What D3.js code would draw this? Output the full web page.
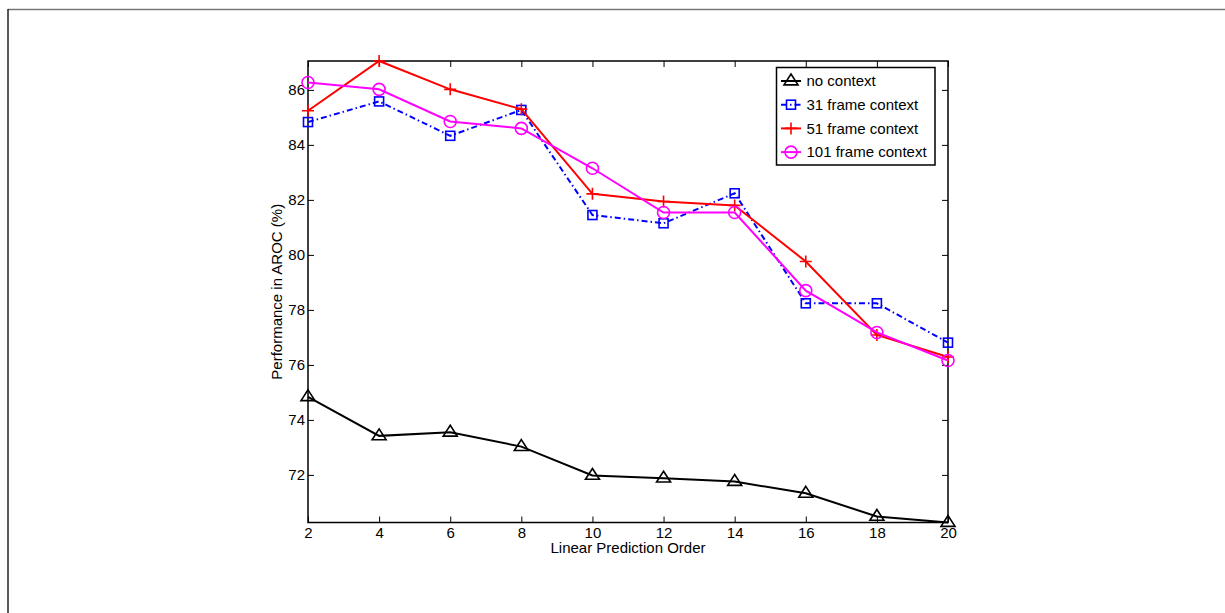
<!DOCTYPE html>
<html>
<head>
<meta charset="utf-8">
<script src="https://cdn.jsdelivr.net/npm/d3@7"></script>
<style>
  body { margin: 0; background: #fff; }
  svg text { font-family: "Liberation Sans", Arial, sans-serif; }
</style>
</head>
<body>
<div id="chart"></div>
<script>
var orders = [2, 4, 6, 8, 10, 12, 14, 16, 18, 20];
var noContext = [74.84, 73.42, 73.55, 73.03, 71.98, 71.88, 71.76, 71.33, 70.49, 70.27];
var ctx31 = [84.83, 85.58, 84.33, 85.27, 81.45, 81.15, 82.24, 78.24, 78.24, 76.81];
var ctx51 = [85.24, 87.05, 86.02, 85.30, 82.22, 81.94, 81.80, 79.76, 77.09, 76.29];
var ctx101 = [86.27, 86.02, 84.85, 84.60, 83.15, 81.54, 81.54, 78.70, 77.18, 76.16];
var xTicks = [2, 4, 6, 8, 10, 12, 14, 16, 18, 20];
var yTicks = [72, 74, 76, 78, 80, 82, 84, 86];

var series = [
  {name: "no context", values: noContext, color: "#000", dash: null, marker: "triangle"},
  {name: "31 frame context", values: ctx31, color: "#0000ff", dash: "6,3,1.5,3", marker: "square"},
  {name: "51 frame context", values: ctx51, color: "#ff0000", dash: null, marker: "plus"},
  {name: "101 frame context", values: ctx101, color: "#ff00ff", dash: null, marker: "circle"}
];

var W = 1225, H = 613;
var plotL = 308, plotR = 948, plotT = 61, plotB = 522.5;
var fontSize = "15px";

var svg = d3.select("#chart").append("svg")
    .attr("width", W).attr("height", H);

// figure frame
svg.append("line").attr("x1", 8).attr("x2", W).attr("y1", 9.5).attr("y2", 9.5)
    .attr("stroke", "#777").attr("stroke-width", 1.5);
svg.append("line").attr("x1", 8).attr("x2", 8).attr("y1", 9).attr("y2", H)
    .attr("stroke", "#222").attr("stroke-width", 1.5);

var allVals = d3.merge(series.map(function(s){ return s.values; }));
var x = d3.scaleLinear().domain([2, 20]).range([plotL, plotR]);
var y = d3.scaleLinear().domain([d3.min(allVals), d3.max(allVals)]).range([plotB, plotT]);

var tickLen = 6;
// axes
var gx = svg.append("g").attr("transform", "translate(0," + plotB + ")")
    .call(d3.axisBottom(x).tickValues(xTicks).tickSize(-tickLen).tickPadding(5).tickFormat(d3.format("d")));
var gxTop = svg.append("g").attr("transform", "translate(0," + plotT + ")")
    .call(d3.axisTop(x).tickValues(xTicks).tickSize(-tickLen).tickFormat(""));
var gy = svg.append("g").attr("transform", "translate(" + plotL + ",0)")
    .call(d3.axisLeft(y).tickValues(yTicks).tickSize(-tickLen).tickPadding(3).tickFormat(d3.format("d")));
var gyRight = svg.append("g").attr("transform", "translate(" + plotR + ",0)")
    .call(d3.axisRight(y).tickValues(yTicks).tickSize(-tickLen).tickFormat(""));

[gx, gxTop, gy, gyRight].forEach(function(g){
  g.select(".domain").remove();
  g.selectAll("line").attr("stroke", "#000").attr("stroke-width", 1);
  g.selectAll("text").attr("fill", "#000").style("font-size", fontSize);
});

svg.append("rect").attr("x", plotL).attr("y", plotT)
    .attr("width", plotR - plotL).attr("height", plotB - plotT)
    .attr("fill", "none").attr("stroke", "#000").attr("stroke-width", 1.5);

svg.append("text").attr("x", (plotL + plotR) / 2).attr("y", 553)
    .attr("text-anchor", "middle").style("font-size", fontSize).text("Linear Prediction Order");
svg.append("text").attr("transform", "translate(282," + ((plotT + plotB) / 2) + ") rotate(-90)")
    .attr("text-anchor", "middle").style("font-size", fontSize).text("Performance in AROC (%)");

function drawMarker(g, type, cx, cy, color) {
  if (type === "triangle") {
    var s = 7;
    g.append("path").attr("d", "M" + cx + "," + (cy - s) + "L" + (cx + s) + "," + (cy + s * 0.55) + "L" + (cx - s) + "," + (cy + s * 0.55) + "Z")
      .attr("fill", "none").attr("stroke", color).attr("stroke-width", 1.6);
  } else if (type === "square") {
    g.append("rect").attr("x", cx - 4.5).attr("y", cy - 4.5).attr("width", 9).attr("height", 9)
      .attr("fill", "none").attr("stroke", color).attr("stroke-width", 1.6);
  } else if (type === "plus") {
    g.append("path").attr("d", "M" + (cx - 6) + "," + cy + "H" + (cx + 6) + "M" + cx + "," + (cy - 6) + "V" + (cy + 6))
      .attr("stroke", color).attr("stroke-width", 1.6);
  } else {
    g.append("circle").attr("cx", cx).attr("cy", cy).attr("r", 6)
      .attr("fill", "none").attr("stroke", color).attr("stroke-width", 1.6);
  }
}

var line = d3.line().x(function(d){ return x(d[0]); }).y(function(d){ return y(d[1]); });

series.forEach(function(s){
  var pts = orders.map(function(o, i){ return [o, s.values[i]]; });
  var g = svg.append("g");
  g.append("path").datum(pts).attr("d", line)
    .attr("fill", "none").attr("stroke", s.color).attr("stroke-width", 2)
    .attr("stroke-dasharray", s.dash);
  pts.forEach(function(p){ drawMarker(g, s.marker, x(p[0]), y(p[1]), s.color); });
});

// legend
var lg = svg.append("g");
lg.append("rect").attr("x", 776.5).attr("y", 67.5).attr("width", 158.5).attr("height", 97.5)
  .attr("fill", "#fff").attr("stroke", "#000").attr("stroke-width", 1.5);
series.forEach(function(s, i){
  var ly = 81 + i * 23.7;
  lg.append("line").attr("x1", 781).attr("x2", 801).attr("y1", ly).attr("y2", ly)
    .attr("stroke", s.color).attr("stroke-width", 2).attr("stroke-dasharray", s.dash);
  drawMarker(lg, s.marker, 791, ly, s.color);
  lg.append("text").attr("x", 806.5).attr("y", ly).attr("dy", "0.35em")
    .style("font-size", fontSize).text(s.name);
});
</script>
</body>
</html>
